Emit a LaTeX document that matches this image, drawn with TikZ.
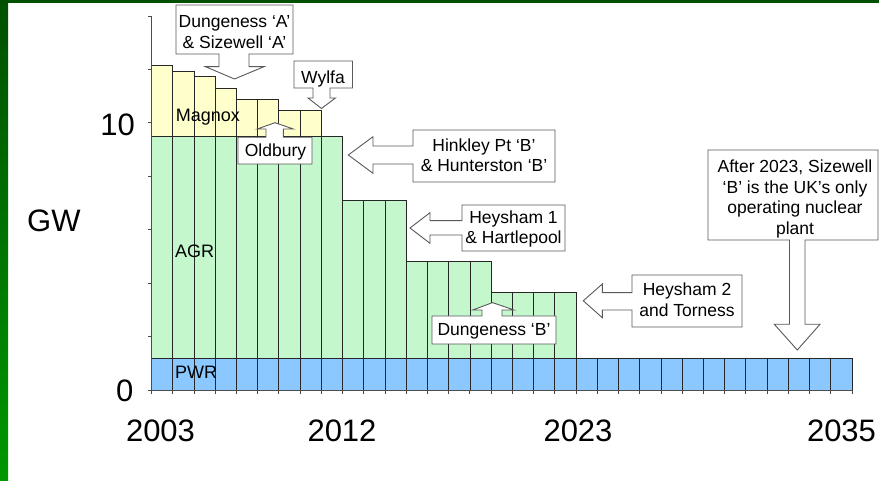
\documentclass[tikz,border=0pt]{standalone}
\usepackage{fontspec}
\setmainfont{Liberation Sans}
\definecolor{magnox}{RGB}{255,255,204}
\definecolor{agr}{RGB}{196,248,204}
\definecolor{pwr}{RGB}{138,200,255}
\definecolor{gtop}{RGB}{0,80,0}
\definecolor{gbot}{RGB}{0,152,0}
\begin{document}
\begin{tikzpicture}[x=1pt,y=-1pt,
  bar/.style={draw=black!85, line width=0.8pt},
  axisline/.style={draw=black!70, line width=0.9pt},
  callout/.style={draw=black!65, fill=white, line width=0.9pt, line join=miter},
  ctext/.style={font=\fontsize{17.5}{20.6}\selectfont, align=center, inner sep=0pt},
  serieslbl/.style={font=\fontsize{18}{20}\selectfont, inner sep=0pt, anchor=base west},
  big/.style={font=\fontsize{31}{36}\selectfont, inner sep=0pt}]
\def\bw{21.227}
% background and frame
\fill[white] (0,0) rectangle (879,481);
\useasboundingbox (0,0) rectangle (879,481);
\fill[gtop] (0,0) rectangle (879,3);
\shade[top color=gtop, bottom color=gbot] (0,0) rectangle (8,481);
% PWR bars
\foreach \i in {0,...,32}
  \draw[bar, fill=pwr] ({151.5+\i*\bw},358.3) rectangle ({151.5+(\i+1)*\bw},390);
% AGR bars
\foreach \i/\t in {0/136,1/136,2/136,3/136,4/136,5/136,6/136,7/136,8/136,
  9/200,10/200,11/200,12/261.5,13/261.5,14/261.5,15/261.5,
  16/292.3,17/292.3,18/292.3,19/292.3}
  \draw[bar, fill=agr] ({151.5+\i*\bw},\t) rectangle ({151.5+(\i+1)*\bw},358.3);
% Magnox bars
\foreach \i/\t in {0/65.3,1/71,2/76.3,3/88.3,4/99.3,5/99.3,6/110.7,7/110.7}
  \draw[bar, fill=magnox] ({151.5+\i*\bw},\t) rectangle ({151.5+(\i+1)*\bw},136);
% axes
\draw[axisline] (151.5,16) -- (151.5,390) -- (852,390);
\foreach \k in {0,...,7}
  \draw[axisline] (151.5,{390-\k*53.43}) -- ++(-4,0);
\foreach \i in {0,...,33}
  \draw[axisline] ({151.5+\i*\bw},390) -- ++(0,4);
% series labels
\node[serieslbl] (lmag) at (175.7,121.7) {Magnox};
\node[serieslbl] (lagr) at (175,258) {AGR};
\node[serieslbl] (lpwr) at (175,378.3) {PWR};
% axis labels
\node[big, anchor=base east] (y10) at (135,136) {10};
\node[big, anchor=base east] (y0) at (133.5,401) {0};
\node[big, anchor=base west] (gw) at (27,232) {GW};
\node[big, anchor=base] (x2003) at (160.5,441) {2003};
\node[big, anchor=base] (x2012) at (342,441) {2012};
\node[big, anchor=base] (x2023) at (578,441) {2023};
\node[big, anchor=base] (x2035) at (841.5,441) {2035};
% callouts
\draw[callout] (176,5) -- (293,5) -- (293,54) -- (249,54) -- (249,66.7) -- (264,66.7)
  -- (234.5,79) -- (205.5,66.7) -- (219,66.7) -- (219,54) -- (176,54) -- cycle;
\node[ctext] (cdunA) at (234.5,31.9) {Dungeness ‘A’\\\& Sizewell ‘A’};
\draw[callout] (294,61) -- (352.5,61) -- (352.5,88) -- (330,88) -- (330,98) -- (335.5,98)
  -- (321.5,108.5) -- (308,98) -- (313,98) -- (313,88) -- (294,88) -- cycle;
\node[ctext, anchor=base] (cwylfa) at (323,83.5) {Wylfa};
\draw[callout] (238,137.3) -- (266,137.3) -- (266,129) -- (257.3,129) -- (275,122.7)
  -- (293.3,129) -- (283.3,129) -- (283.3,137.3) -- (312,137.3) -- (312,164) -- (238,164) -- cycle;
\node[ctext, anchor=base] (coldbury) at (275.5,156.7) {Oldbury};
\draw[callout] (413,130) -- (555,130) -- (555,182) -- (413,182) -- (413,164) -- (373,164)
  -- (373,173.3) -- (348.3,155) -- (373,136.7) -- (373,146) -- (413,146) -- cycle;
\node[ctext] (chink) at (484,155.3) {Hinkley Pt ‘B’\\\& Hunterston ‘B’};
\draw[callout] (462,205) -- (565,205) -- (565,251) -- (462,251) -- (462,235) -- (430,235)
  -- (430,243.3) -- (410,228) -- (430,212.7) -- (430,220.7) -- (462,220.7) -- cycle;
\node[ctext] (chey1) at (513.5,228.9) {Heysham 1\\\& Hartlepool};
\draw[callout] (632,275) -- (742,275) -- (742,327) -- (632,327) -- (632,310) -- (602.3,310)
  -- (602.3,317.7) -- (583.3,300.8) -- (602.3,284) -- (602.3,292.7) -- (632,292.7) -- cycle;
\node[ctext] (chey2) at (687,299.7) {Heysham 2\\and Torness};
\draw[callout] (432,316) -- (482,316) -- (482,310) -- (472.7,310) -- (492.5,302.6)
  -- (514,310) -- (502,310) -- (502,316) -- (556,316) -- (556,344) -- (432,344) -- cycle;
\node[ctext, anchor=base] (cdunB) at (494,335) {Dungeness ‘B’};
\draw[callout] (708,150) -- (878,150) -- (878,240) -- (805,240) -- (805,324.3) -- (820,324.3)
  -- (797.3,350) -- (774.3,324.3) -- (789.5,324.3) -- (789.5,240) -- (708,240) -- cycle;
\node[ctext] (cafter) at (795,199) {After 2023, Sizewell\\‘B’ is the UK’s only\\operating nuclear\\plant};
\end{tikzpicture}
\end{document}
